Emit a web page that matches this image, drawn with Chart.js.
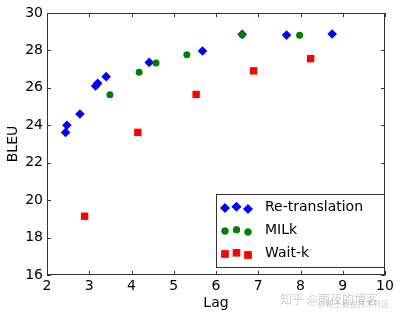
<!DOCTYPE html>
<html><head><meta charset="utf-8">
<script src="https://cdn.jsdelivr.net/npm/chart.js@4/dist/chart.umd.min.js"></script>
<style>html,body{margin:0;padding:0;background:#fff}</style>
</head><body>
<canvas id="c" width="400" height="318"></canvas>
<script>
// ---- data ----
const seriesNames = ['Re-translation', 'MILk', 'Wait-k'];
const retransLag  = [2.44, 2.47, 2.78, 3.15, 3.20, 3.40, 4.42, 5.68, 6.62, 7.67, 8.75];
const retransBleu = [23.62, 24.0, 24.6, 26.1, 26.25, 26.6, 27.36, 27.97, 28.86, 28.82, 28.88];
const milkLag     = [3.49, 4.18, 4.58, 5.31, 6.62, 7.98];
const milkBleu    = [25.63, 26.83, 27.33, 27.77, 28.84, 28.81];
const waitkLag    = [2.89, 4.15, 5.53, 6.89, 8.24];
const waitkBleu   = [19.14, 23.62, 25.65, 26.91, 27.56];
const xTicks = [2, 3, 4, 5, 6, 7, 8, 9, 10];
const yTicks = [16, 18, 20, 22, 24, 26, 28, 30];
const xTitle = 'Lag';
const yTitle = 'BLEU';
const watermark1 = '知乎 @雨夜的博客';
const watermark2 = '@稀土掘金技术社区';

const FONT = 'DejaVu Sans';
const toPts = (xs, ys) => xs.map((x, i) => ({x, y: ys[i]}));

const styles = [
  {color: '#0000ff', pointStyle: 'rectRot', radius: 4.8},
  {color: '#008000', pointStyle: 'circle', radius: 3.5},
  {color: '#ff0000', pointStyle: 'rect', radius: 5.2}
];
const dataPairs = [[retransLag, retransBleu], [milkLag, milkBleu], [waitkLag, waitkBleu]];

const datasets = dataPairs.map((p, i) => ({
  label: seriesNames[i],
  data: toPts(p[0], p[1]),
  order: dataPairs.length - 1 - i,
  backgroundColor: styles[i].color,
  borderColor: styles[i].color,
  borderWidth: 0,
  pointStyle: styles[i].pointStyle,
  pointRadius: styles[i].radius,
  pointHoverRadius: styles[i].radius
}));

const framePlugin = {
  id: 'frame',
  afterDatasetsDraw(chart) {
    const {ctx, chartArea: a, scales} = chart;
    ctx.save();
    ctx.strokeStyle = '#333';
    ctx.lineWidth = 1;
    ctx.strokeRect(Math.round(a.left) + 0.5, Math.round(a.top) + 0.5,
                   Math.round(a.right - a.left) - 1, Math.round(a.bottom - a.top) - 1);
    const L = 4;
    ctx.beginPath();
    xTicks.forEach(v => {
      const px = Math.round(scales.x.getPixelForValue(v)) + 0.5;
      ctx.moveTo(px, a.bottom); ctx.lineTo(px, a.bottom - L);
      ctx.moveTo(px, a.top); ctx.lineTo(px, a.top + L);
    });
    yTicks.forEach(v => {
      const py = Math.round(scales.y.getPixelForValue(v)) + 0.5;
      ctx.moveTo(a.left, py); ctx.lineTo(a.left + L, py);
      ctx.moveTo(a.right, py); ctx.lineTo(a.right - L, py);
    });
    ctx.stroke();
    ctx.restore();
  },
  afterDraw(chart) {
    const {ctx, chartArea: a} = chart;
    ctx.save();
    // legend box
    const w = 168, h = 73;
    const bx = a.right - 1 - w, by = a.bottom - 8 - h;
    ctx.fillStyle = '#fff';
    ctx.fillRect(bx, by, w, h);
    ctx.strokeStyle = '#333';
    ctx.lineWidth = 1;
    ctx.strokeRect(Math.round(bx) + 0.5, Math.round(by) + 0.5, w, h);
    const rows = [13, 36, 59];
    const mx = [9, 20.5, 32];
    const yoff = [1, -0.3, 2];
    chart.data.datasets.forEach((ds, i) => {
      const cy = by + rows[i];
      mx.forEach((dx, j) => {
        ctx.fillStyle = ds.backgroundColor;
        ctx.strokeStyle = ds.borderColor;
        Chart.helpers.drawPoint(ctx, {pointStyle: ds.pointStyle, radius: ds.pointRadius, borderWidth: 0},
                                bx + dx, cy + yoff[j]);
        ctx.fill();
      });
      ctx.fillStyle = '#000';
      ctx.font = '14px "' + FONT + '"';
      ctx.textBaseline = 'middle';
      ctx.textAlign = 'left';
      ctx.fillText(ds.label, bx + 49, cy);
    });
    // watermark
    ctx.fillStyle = 'rgba(170,170,170,0.55)';
    ctx.font = '12px "Noto Sans CJK SC"';
    ctx.textBaseline = 'middle';
    ctx.fillText(watermark1, 280, 299);
    ctx.fillStyle = 'rgba(150,150,150,0.5)';
    ctx.font = '8px "Noto Sans CJK SC"';
    ctx.fillText(watermark2, 318, 304);
    ctx.restore();
  }
};

new Chart(document.getElementById('c'), {
  type: 'scatter',
  data: {datasets},
  options: {
    responsive: false,
    animation: false,
    events: [],
    layout: {padding: {top: 13, right: 15, left: 0, bottom: 0}},
    plugins: {legend: {display: false}, tooltip: {enabled: false}},
    scales: {
      x: {
        type: 'linear', min: 2, max: 10,
        afterBuildTicks: s => { s.ticks = xTicks.map(v => ({value: v})); },
        afterFit: s => { s.height = 43; },
        grid: {display: false, drawTicks: false},
        border: {display: false},
        ticks: {color: '#000', font: {family: FONT, size: 14}, padding: 3, maxRotation: 0},
        title: {display: true, text: xTitle, color: '#000', font: {family: FONT, size: 14}, padding: {top: 0, bottom: 6}}
      },
      y: {
        type: 'linear', min: 16, max: 30,
        afterBuildTicks: s => { s.ticks = yTicks.map(v => ({value: v})); },
        afterFit: s => { s.width = 47; },
        grid: {display: false, drawTicks: false},
        border: {display: false},
        ticks: {color: '#000', font: {family: FONT, size: 14}, padding: 4},
        title: {display: true, text: yTitle, color: '#000', font: {family: FONT, size: 14}, padding: {top: 5, bottom: 0}}
      }
    }
  },
  plugins: [framePlugin]
});
</script>
</body></html>
